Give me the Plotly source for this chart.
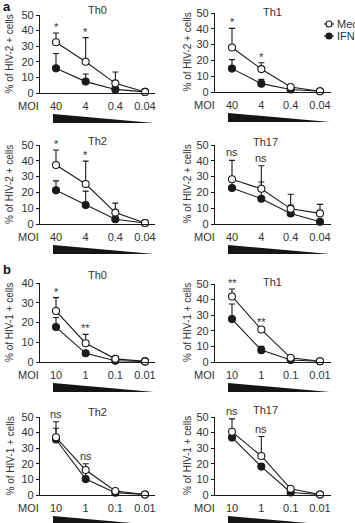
import plotly.graph_objects as go

W, H = 355, 523
FONT = "Liberation Sans, Arial, sans-serif"
TXT = "#333333"
INK = "#1a1a1a"

# ---------------- data ----------------
moi_a = ["40", "4", "0.4", "0.04"]
moi_b = ["10", "1", "0.1", "0.01"]
xpos = [0, 1, 2, 3]

# Panel a: % of HIV-2 + cells
a_th0_med = [32.5, 20.0, 6.2, 0.7]
a_th0_med_err = [38.5, 35.5, 13.5, None]
a_th0_ifn = [15.8, 7.3, 2.3, 0.7]
a_th0_ifn_err = [25.3, 12.2, None, None]
a_th0_sig = ["*", "*"]

a_th1_med = [28.2, 14.5, 3.2, 0.5]
a_th1_med_err = [40.3, 18.5, None, None]
a_th1_ifn = [14.8, 5.3, 1.6, 0.5]
a_th1_ifn_err = [20.5, 8.0, None, None]
a_th1_sig = ["*", "*"]

a_th2_med = [37.3, 25.3, 7.2, 0.6]
a_th2_med_err = [46.8, 39.8, 13.2, None]
a_th2_ifn = [21.3, 12.0, 3.0, 0.6]
a_th2_ifn_err = [27.3, 20.8, None, None]
a_th2_sig = ["*", "*"]

a_th17_med = [28.3, 22.3, 9.6, 6.7]
a_th17_med_err = [40.3, 36.9, 18.8, 12.4]
a_th17_ifn = [22.8, 16.0, 6.6, 1.4]
a_th17_ifn_err = [27.0, 26.6, 12.0, None]
a_th17_sig = ["ns", "ns"]

# Panel b: % of HIV-1 + cells
b_th0_med = [25.8, 9.5, 1.6, 0.3]
b_th0_med_err = [32.6, 14.0, None, None]
b_th0_ifn = [17.7, 4.4, 0.6, 0.3]
b_th0_ifn_err = [22.5, None, None, None]
b_th0_sig = ["*", "**"]

b_th1_med = [42.0, 20.8, 2.7, 0.5]
b_th1_med_err = [46.8, 21.8, None, None]
b_th1_ifn = [27.5, 7.6, 1.3, 0.5]
b_th1_ifn_err = [37.2, 10.0, None, None]
b_th1_sig = ["**", "**"]

b_th2_med = [37.0, 16.0, 2.6, 0.3]
b_th2_med_err = [47.0, 20.0, None, None]
b_th2_ifn = [35.6, 10.2, 1.5, 0.3]
b_th2_ifn_err = [42.8, 14.5, None, None]
b_th2_sig = ["ns", "ns"]

b_th17_med = [40.5, 25.0, 4.0, 0.3]
b_th17_med_err = [48.8, 37.5, 5.0, None]
b_th17_ifn = [36.8, 18.2, 1.6, 0.3]
b_th17_ifn_err = [40.5, None, None, None]
b_th17_sig = ["ns", "ns"]

titles = ["Th0", "Th1", "Th2", "Th17", "Th0", "Th1", "Th2", "Th17"]
ytitle_a = "% of HIV-2 + cells"
ytitle_b = "% of HIV-1 + cells"
legend_names = ["Medium", "IFN"]

# ---------------- layout geometry (pixels) ----------------
def px(x):
    return x / W

def py(y):
    return 1 - y / H

# (x_left, x_right, x_cat0, x_cat3, y_top, y_bottom)
geo = [
    (40, 155, 56, 145, 15, 93),
    (215, 331, 232, 320, 13, 92),
    (40, 155, 56, 145, 145, 224),
    (215, 331, 232, 320, 145, 224),
    (40, 155, 56, 145, 283, 362),
    (215, 331, 232, 320, 284, 362),
    (40, 155, 56, 145, 417, 495),
    (215, 331, 232, 320, 417, 495),
]

panels = [
    (moi_a, 50, ytitle_a, a_th0_med, a_th0_med_err, a_th0_ifn, a_th0_ifn_err, a_th0_sig),
    (moi_a, 50, ytitle_a, a_th1_med, a_th1_med_err, a_th1_ifn, a_th1_ifn_err, a_th1_sig),
    (moi_a, 50, ytitle_a, a_th2_med, a_th2_med_err, a_th2_ifn, a_th2_ifn_err, a_th2_sig),
    (moi_a, 50, ytitle_a, a_th17_med, a_th17_med_err, a_th17_ifn, a_th17_ifn_err, a_th17_sig),
    (moi_b, 40, ytitle_b, b_th0_med, b_th0_med_err, b_th0_ifn, b_th0_ifn_err, b_th0_sig),
    (moi_b, 50, ytitle_b, b_th1_med, b_th1_med_err, b_th1_ifn, b_th1_ifn_err, b_th1_sig),
    (moi_b, 50, ytitle_b, b_th2_med, b_th2_med_err, b_th2_ifn, b_th2_ifn_err, b_th2_sig),
    (moi_b, 50, ytitle_b, b_th17_med, b_th17_med_err, b_th17_ifn, b_th17_ifn_err, b_th17_sig),
]

title_pos = [(97, 10), (272, 12), (97, 141), (265, 142), (97, 275), (272, 282), (97, 412), (265, 410)]

fig = go.Figure()
annotations = []
shapes = []


def err_up(vals, tops):
    return [None if t is None else t - v for v, t in zip(vals, tops)]


def paper_text(text, x, y, size=11, angle=0, xanchor="center", color=TXT):
    return dict(text=text, x=px(x), y=py(y), xref="paper", yref="paper",
                xanchor=xanchor, yanchor="middle", showarrow=False, textangle=angle,
                font=dict(family=FONT, size=size, color=color))


for i, (labels, ymax, ytitle, med, med_err, ifn, ifn_err, sig) in enumerate(panels):
    n = i + 1
    xa = "x" if n == 1 else f"x{n}"
    ya = "y" if n == 1 else f"y{n}"
    xl, xr, c0, c3, yt, yb = geo[i]
    scale = (c3 - c0) / 3.0
    xr_min = -(c0 - xl) / scale
    xr_max = 3 + (xr - c3) / scale

    for vals, tops, fill, name in [
        (ifn, ifn_err, INK, legend_names[1]),
        (med, med_err, "white", legend_names[0]),
    ]:
        fig.add_trace(go.Scatter(
            x=xpos, y=vals, xaxis=xa, yaxis=ya, name=name, showlegend=False,
            mode="lines+markers", cliponaxis=False,
            line=dict(color=INK, width=1.1),
            marker=dict(size=7, color=fill, line=dict(color=INK, width=1.1)),
            error_y=dict(type="data", symmetric=False, array=err_up(vals, tops),
                         arrayminus=[0, 0, 0, 0], color=INK, thickness=1.1, width=3),
        ))

    xkey = "xaxis" if n == 1 else f"xaxis{n}"
    ykey = "yaxis" if n == 1 else f"yaxis{n}"
    fig.layout[xkey] = dict(
        domain=[px(xl), px(xr)], range=[xr_min, xr_max], anchor=ya,
        tickvals=xpos, ticktext=labels, ticks="", showgrid=False, zeroline=False,
        showline=True, linecolor=INK, linewidth=1.2, ticklabelstandoff=3,
        tickfont=dict(family=FONT, size=11, color=TXT), fixedrange=True,
    )
    fig.layout[ykey] = dict(
        domain=[py(yb), py(yt)], range=[0, ymax], anchor=xa,
        tickvals=list(range(0, ymax + 1, 10)), ticks="outside", ticklen=3,
        tickcolor=INK, tickwidth=1.2, showgrid=False, zeroline=False,
        showline=True, linecolor=INK, linewidth=1.2,
        tickfont=dict(family=FONT, size=11, color=TXT), fixedrange=True,
    )

    left = xl < 100
    # y-axis title
    annotations.append(paper_text(ytitle, 9.5 if left else 187, (yt + yb) / 2, size=10, angle=-90))
    # panel title
    tx, ty = title_pos[i]
    annotations.append(paper_text(titles[i], tx, ty))
    # MOI label
    annotations.append(paper_text("MOI", 28 if left else 204, yb + 13))
    # significance labels
    for k, s in enumerate(sig):
        tops = [t if t is not None else v for t, v in zip(med_err, med)]
        annotations.append(dict(
            text=s, x=xpos[k], y=tops[k], xref=xa, yref=ya, showarrow=False,
            xanchor="center", yanchor="bottom", yshift=(-2 if "*" in s else 0),
            font=dict(family=FONT, size=11, color=TXT),
        ))
    # decreasing-MOI wedge
    wl = 53 if left else 228
    wr = 154 if left else 330
    wt = yb + 21
    wb = yb + 30
    shapes.append(dict(
        type="path", xref="paper", yref="paper", line=dict(width=0), fillcolor="#151515",
        path=f"M {px(wl)},{py(wt)} L {px(wr)},{py(wb)} L {px(wl)},{py(wb)} Z",
    ))

# panel letters
annotations.append(paper_text("<b>a</b>", 1, 7, size=13, xanchor="left", color="#111"))
annotations.append(paper_text("<b>b</b>", 1, 269, size=13, xanchor="left", color="#111"))

# manual legend (top right)
for name, fill, ly in [(legend_names[0], "white", 24), (legend_names[1], INK, 36)]:
    shapes.append(dict(type="line", xref="paper", yref="paper",
                       x0=px(324), x1=px(334), y0=py(ly), y1=py(ly),
                       line=dict(color=INK, width=1.1)))
    shapes.append(dict(type="circle", xref="paper", yref="paper",
                       xsizemode="pixel", ysizemode="pixel",
                       xanchor=px(329), yanchor=py(ly), x0=-3, x1=3, y0=-3, y1=3,
                       fillcolor=fill, line=dict(color=INK, width=1.1)))
    annotations.append(paper_text(name, 335, ly, xanchor="left"))

fig.update_layout(
    width=W, height=H, margin=dict(l=0, r=0, t=0, b=0, autoexpand=False),
    paper_bgcolor="white", plot_bgcolor="white", showlegend=False,
    annotations=annotations, shapes=shapes,
    font=dict(family=FONT, color=TXT),
)

fig.write_html("out.html", config={"displayModeBar": False})
